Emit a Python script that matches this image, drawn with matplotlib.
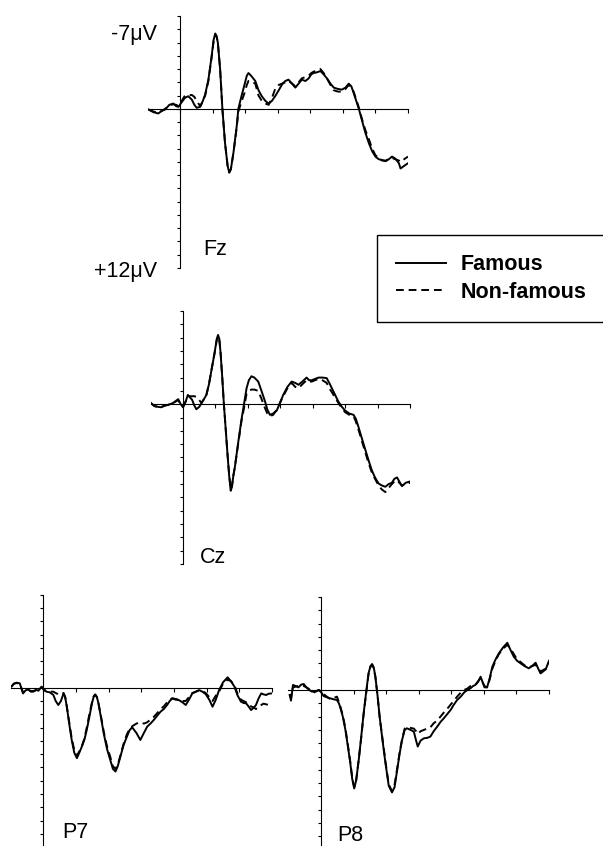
import numpy as np
import matplotlib
matplotlib.use("Agg")
import matplotlib.pyplot as plt
from matplotlib.lines import Line2D

# ==========================================
#  Data (ms, microvolts; negative plotted up)
# ==========================================
fz_t = [-97, -82, -67, -56, -46, -33, -21, -12, -5, 5, 15, 25, 36, 44, 51, 62, 70, 77, 87, 97,
        103, 108, 112, 116, 123, 130, 138, 146, 151, 156, 164, 174, 179, 188, 198, 205, 210,
        218, 231, 241, 251, 262, 272, 282, 292, 303, 313, 323, 333, 344, 354, 364, 374, 385,
        395, 403, 410, 420, 431, 441, 451, 462, 472, 485, 497, 508, 518, 526, 533, 541, 549,
        559, 569, 580, 590, 600, 610, 620, 631, 641, 651, 661, 672, 677, 688, 700]
fz_famous = [0.05, 0.25, 0.35, 0.15, 0.05, -0.3, -0.4, -0.2, -0.15, -0.5, -0.83, -0.95, -0.7,
             -0.3, -0.08, -0.15, -0.6, -1.08, -2.2, -3.97, -5.2, -5.68, -5.5, -5.0, -3.0, 0.0,
             2.56, 4.3, 4.8, 4.55, 3.3, 1.3, 0.0, -0.9, -1.83, -2.5, -2.7, -2.5, -2.1, -1.4,
             -0.95, -0.6, -0.4, -0.6, -0.95, -1.4, -1.83, -2.1, -2.2, -1.9, -1.6, -1.9, -2.2,
             -2.1, -2.3, -2.6, -2.7, -2.75, -2.85, -2.6, -2.3, -1.9, -1.6, -1.5, -1.45, -1.6,
             -1.9, -1.7, -1.2, -0.6, 0.0, 0.9, 1.8, 2.6, 3.2, 3.6, 3.8, 3.85, 3.95, 3.8, 3.6,
             3.75, 4.1, 4.5, 4.3, 4.1]
fz_nonfamous = [0.05, 0.2, 0.3, 0.15, 0.0, -0.25, -0.35, -0.3, -0.2, -0.6, -1.0, -1.0, -1.05,
                -0.9, -0.6, -0.2, -0.6, -1.0, -2.1, -3.9, -5.1, -5.6, -5.45, -5.0, -3.0, 0.0,
                2.56, 4.3, 4.8, 4.55, 3.3, 1.4, 0.2, -0.5, -1.2, -1.8, -2.1, -2.1, -1.9, -1.0,
                -0.6, -0.4, -0.3, -0.8, -1.5, -1.8, -1.9, -2.0, -2.1, -1.9, -1.7, -2.0, -2.3,
                -2.4, -2.5, -2.7, -2.8, -2.9, -3.0, -2.7, -2.3, -1.8, -1.4, -1.3, -1.3, -1.5,
                -1.8, -1.6, -1.3, -0.7, -0.1, 0.8, 1.6, 2.3, 3.0, 3.5, 3.7, 3.9, 3.9, 3.8, 3.7,
                3.8, 3.9, 4.0, 3.8, 3.6]

cz_t = [-100, -88, -77, -67, -56, -46, -30, -15, -7, 0, 8, 15, 22, 28, 35, 41, 50, 57, 65, 72,
        80, 88, 97, 104, 108, 112, 116, 121, 126, 132, 137, 142, 147, 151, 155, 160, 170, 180,
        188, 196, 203, 211, 220, 232, 242, 253, 260, 268, 278, 289, 299, 309, 322, 335, 346,
        356, 368, 381, 389, 397, 407, 418, 430, 443, 451, 459, 469, 479, 490, 500, 513, 526,
        533, 541, 552, 562, 572, 582, 592, 603, 613, 624, 634, 644, 652, 660, 667, 675, 687,
        700]
cz_famous = [-0.1, 0.13, 0.2, 0.23, 0.1, 0.05, -0.1, -0.38, 0.0, 0.23, -0.2, -0.7, -0.5, -0.33,
             0.1, 0.38, 0.2, -0.08, -0.4, -0.7, -1.5, -2.6, -3.8, -4.9, -5.2, -4.9, -3.8, -2.0,
             0.0, 2.0, 3.7, 5.3, 6.5, 6.2, 5.4, 4.7, 2.9, 1.2, 0.0, -1.2, -1.8, -2.1, -2.0,
             -1.7, -1.0, -0.2, 0.4, 0.8, 0.7, 0.48, -0.1, -0.7, -1.3, -1.7, -1.6, -1.46, -1.7,
             -2.0, -1.8, -1.8, -1.9, -2.0, -2.0, -1.96, -1.6, -1.2, -0.7, -0.2, 0.2, 0.48, 0.7,
             0.8, 1.1, 1.7, 2.6, 3.4, 4.2, 4.95, 5.5, 5.95, 6.1, 6.2, 6.0, 5.9, 5.6, 5.5, 5.8,
             6.15, 5.9, 5.8]
cz_nonfamous = [-0.1, 0.15, 0.2, 0.2, 0.1, 0.05, -0.1, -0.3, 0.0, 0.2, -0.2, -0.6, -0.6, -0.6,
                -0.6, -0.55, -0.3, -0.1, -0.4, -0.7, -1.5, -2.6, -3.8, -4.8, -5.1, -4.8, -3.8,
                -2.0, 0.0, 2.0, 3.7, 5.2, 6.4, 6.1, 5.4, 4.7, 3.0, 1.3, 0.3, -0.8, -1.0, -1.1,
                -1.1, -1.0, -0.4, 0.3, 0.7, 0.9, 0.8, 0.4, -0.1, -0.6, -1.2, -1.6, -1.3, -1.2,
                -1.5, -1.8, -1.7, -1.7, -1.8, -1.9, -1.8, -1.6, -1.2, -0.9, -0.5, -0.1, 0.3,
                0.6, 0.8, 0.9, 1.3, 1.9, 2.8, 3.6, 4.4, 5.1, 5.6, 6.1, 6.4, 6.6, 6.3, 6.0, 5.8,
                5.7, 5.9, 6.1, 6.0, 5.9]

p7_t = [-97, -90, -82, -72, -62, -54, -46, -38, -31, -22, -15, -5, 3, 10, 20, 31, 38, 46, 54,
        62, 67, 72, 80, 87, 95, 103, 110, 118, 126, 133, 141, 149, 154, 159, 164, 169, 177,
        185, 195, 205, 213, 221, 228, 236, 246, 256, 264, 272, 285, 297, 308, 318, 328, 338,
        349, 359, 369, 379, 387, 395, 405, 415, 426, 436, 446, 456, 467, 477, 487, 497, 508,
        518, 528, 538, 550, 564, 574, 585, 595, 605, 613, 621, 628, 636, 644, 651, 659, 667,
        674, 682, 690, 700]
p7_famous = [-0.08, -0.3, -0.38, -0.33, 0.43, 0.2, 0.13, 0.3, 0.3, 0.15, 0.23, -0.08, 0.2, 0.3,
             0.35, 0.55, 1.0, 1.3, 1.0, 0.43, 0.7, 1.43, 2.8, 3.93, 4.9, 5.3, 4.9, 4.43, 3.9,
             3.18, 2.2, 1.18, 0.7, 0.55, 0.7, 1.18, 2.3, 3.43, 4.6, 5.43, 6.1, 6.3, 5.9, 5.18,
             4.3, 3.68, 3.2, 2.98, 3.4, 3.93, 3.4, 2.93, 2.7, 2.43, 2.1, 1.8, 1.6, 1.3, 1.0,
             0.8, 0.9, 0.93, 1.1, 1.3, 0.9, 0.43, 0.3, 0.18, 0.3, 0.48, 0.9, 1.43, 0.9, 0.18,
             -0.4, -0.78, -0.5, -0.08, 0.6, 1.05, 1.15, 1.18, 1.4, 1.68, 1.5, 1.3, 0.8, 0.43,
             0.5, 0.55, 0.45, 0.43]
p7_nonfamous = [-0.1, -0.3, -0.35, -0.3, 0.35, 0.2, 0.15, 0.25, 0.25, 0.2, 0.2, -0.05, 0.15,
                0.25, 0.3, 0.3, 0.4, 0.5, 0.45, 0.4, 0.7, 1.4, 2.7, 3.8, 4.7, 5.1, 4.8, 4.4,
                3.8, 3.0, 2.0, 1.1, 0.65, 0.5, 0.7, 1.2, 2.2, 3.3, 4.4, 5.2, 5.9, 6.1, 5.8, 5.1,
                4.2, 3.5, 3.1, 2.9, 2.7, 2.6, 2.7, 2.6, 2.4, 2.2, 1.9, 1.6, 1.4, 1.1, 0.9, 0.8,
                0.85, 0.9, 1.0, 1.0, 0.7, 0.4, 0.3, 0.2, 0.25, 0.4, 0.7, 1.0, 0.6, 0.3, -0.3,
                -0.6, -0.5, -0.2, 0.5, 0.9, 1.0, 1.1, 1.3, 1.4, 1.5, 1.6, 1.4, 1.3, 1.2, 1.25,
                1.3, 1.2]

p8_t = [-96, -92, -86, -78, -69, -61, -53, -45, -38, -30, -23, -15, -7, 0, 8, 18, 29, 39, 49,
        55, 59, 67, 75, 83, 90, 96, 102, 108, 116, 124, 131, 139, 146, 152, 157, 162, 167,
        174, 180, 189, 198, 208, 218, 226, 234, 242, 249, 257, 264, 275, 285, 292, 297, 306,
        316, 326, 336, 346, 357, 367, 377, 388, 398, 408, 418, 429, 439, 449, 459, 467, 474,
        482, 490, 496, 502, 510, 518, 526, 536, 546, 559, 572, 582, 592, 602, 613, 625, 638,
        648, 659, 667, 674, 682, 690, 700]
p8_famous = [0.38, 0.8, -0.38, -0.3, -0.2, -0.4, -0.45, -0.2, -0.05, 0.1, 0.13, 0.1, 0.0, 0.15,
             0.45, 0.55, 0.63, 0.7, 0.75, 1.0, 1.3, 2.0, 3.0, 4.3, 5.5, 6.7, 7.4, 6.8, 5.25,
             3.4, 1.75, 0.1, -1.25, -1.8, -1.95, -1.7, -1.0, 0.5, 2.0, 3.8, 5.5, 7.2, 7.7, 7.3,
             6.0, 4.7, 3.75, 3.0, 2.88, 3.0, 3.13, 3.8, 4.25, 3.8, 3.63, 3.6, 3.5, 3.1, 2.75,
             2.4, 2.13, 1.8, 1.5, 1.1, 0.75, 0.5, 0.2, 0.0, -0.13, -0.3, -0.38, -0.6, -1.0,
             -0.6, -0.2, -0.2, -0.9, -1.75, -2.3, -2.75, -3.2, -3.55, -3.0, -2.5, -2.2, -2.0,
             -1.8, -1.63, -1.8, -2.05, -1.6, -1.25, -1.4, -1.55, -2.2]
p8_nonfamous = [0.3, 0.6, -0.2, -0.25, -0.3, -0.3, -0.3, -0.2, -0.1, 0.1, 0.2, 0.1, 0.0, 0.1,
                0.3, 0.5, 0.7, 0.6, 0.5, 0.9, 1.2, 1.9, 2.9, 4.2, 5.4, 6.6, 7.3, 6.8, 5.2, 3.5,
                1.8, 0.2, -1.2, -1.75, -1.9, -1.6, -1.0, 0.5, 2.0, 3.7, 5.4, 7.1, 7.6, 7.1, 5.9,
                4.6, 3.7, 2.9, 2.8, 2.85, 2.9, 3.1, 3.3, 3.1, 3.0, 2.9, 2.8, 2.5, 2.3, 2.0, 1.7,
                1.4, 1.1, 0.8, 0.5, 0.2, 0.0, -0.1, -0.3, -0.35, -0.4, -0.65, -0.9, -0.6, -0.3,
                -0.2, -0.8, -1.6, -2.2, -2.7, -3.1, -3.4, -3.1, -2.7, -2.3, -2.1, -1.85, -1.7,
                -1.8, -1.9, -1.6, -1.4, -1.5, -1.6, -2.1]

electrodes = ["Fz", "Cz", "P7", "P8"]
times = [fz_t, cz_t, p7_t, p8_t]
famous = [fz_famous, cz_famous, p7_famous, p8_famous]
nonfamous = [fz_nonfamous, cz_nonfamous, p7_nonfamous, p8_nonfamous]

# ==========================================
#  Layout (pixel boxes: x at -100/700 ms, y at -7/+12 uV)
# ==========================================
W, H = 603, 846
panel_px = [
    (147.5, 408.0, 16.0, 268.0),
    (150.6, 410.0, 311.0, 564.0),
    (10.6, 272.0, 594.6, 847.3),
    (288.4, 549.0, 596.9, 849.6),
]
# label (x left, baseline) in pixels
label_px = [(203, 255), (200, 563), (62, 838), (337, 841)]

plt.rcParams["font.family"] = ["Liberation Sans", "DejaVu Sans"]
fig = plt.figure(figsize=(W / 100, H / 100), dpi=100)

for name, t, fam, non, (x0, x1, y0, y1), (lx, ly) in zip(
        electrodes, times, famous, nonfamous, panel_px, label_px):
    ax = fig.add_axes([x0 / W, 1 - y1 / H, (x1 - x0) / W, (y1 - y0) / H])
    ax.set_xlim(-100, 700)
    ax.set_ylim(12, -7)
    ax.patch.set_visible(False)

    ax.plot(t, fam, color="black", lw=1.4, solid_joinstyle="round")
    ax.plot(t, non, color="black", lw=1.4, dashes=(4, 2.5))

    for s in ["top", "right"]:
        ax.spines[s].set_visible(False)
    ax.spines["left"].set_position(("data", 0))
    ax.spines["bottom"].set_position(("data", 0))
    ax.spines["left"].set_bounds(-7, 12)
    ax.spines["bottom"].set_bounds(-100, 700)
    ax.spines["left"].set_linewidth(0.8)
    ax.spines["bottom"].set_linewidth(0.8)

    ax.set_xticks(np.arange(0, 701, 100))
    ax.set_yticks(np.arange(-7, 13, 1))
    ax.tick_params(axis="x", direction="out", length=3, width=0.8, labelbottom=False)
    ax.tick_params(axis="y", direction="out", length=2.5, width=0.8, labelleft=False)

    fig.text(lx / W, 1 - ly / H, name, fontsize=15.5, ha="left", va="baseline")

# amplitude labels on Fz
fig.text(157 / W, 1 - 40 / H, "-7\u03bcV", fontsize=15.5, ha="right", va="baseline")
fig.text(157 / W, 1 - 277 / H, "+12\u03bcV", fontsize=15.5, ha="right", va="baseline")

# legend
handles = [
    Line2D([], [], color="black", lw=1.4, label="Famous"),
    Line2D([], [], color="black", lw=1.4, dashes=(4, 2.5), label="Non-famous"),
]
leg = fig.legend(handles=handles, loc="upper left", bbox_to_anchor=(377 / W, 1 - 235 / H),
                 borderaxespad=0, fancybox=False, framealpha=1, edgecolor="black",
                 prop={"weight": "bold", "size": 15.5}, handlelength=2.3,
                 handletextpad=0.7, labelspacing=0.3, borderpad=0.9)
leg.get_frame().set_linewidth(1.0)

plt.savefig("out.png", dpi=100)
plt.close()
